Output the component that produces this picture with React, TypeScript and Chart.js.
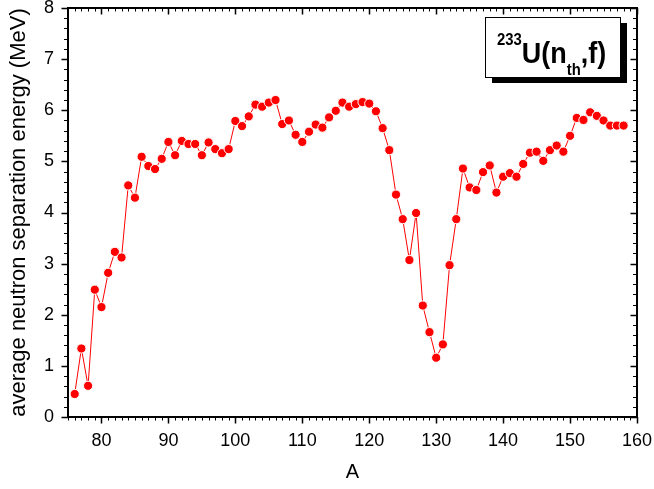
import React, { useEffect, useRef } from "react";
import { Chart, registerables } from "chart.js";

Chart.register(...registerables);

const massNumbers = [
  76, 77, 78, 79, 80, 81, 82, 83, 84, 85, 86, 87, 88, 89, 90, 91, 92, 93, 94, 95,
  96, 97, 98, 99, 100, 101, 102, 103, 104, 105, 106, 107, 108, 109, 110, 111, 112,
  113, 114, 115, 116, 117, 118, 119, 120, 121, 122, 123, 124, 125, 126, 127, 128,
  129, 130, 131, 132, 133, 134, 135, 136, 137, 138, 139, 140, 141, 142, 143, 144,
  145, 146, 147, 148, 149, 150, 151, 152, 153, 154, 155, 156, 157, 158,
];

const separationEnergy = [
  0.45, 1.34, 0.61, 2.49, 2.15, 2.82, 3.23, 3.12, 4.53, 4.29, 5.09, 4.91, 4.85, 5.05,
  5.38, 5.12, 5.4, 5.34, 5.34, 5.12, 5.37, 5.24, 5.16, 5.24, 5.79, 5.69, 5.88, 6.11,
  6.07, 6.15, 6.2, 5.73, 5.8, 5.52, 5.38, 5.58, 5.72, 5.66, 5.86, 5.99, 6.15, 6.07,
  6.12, 6.16, 6.13, 5.98, 5.65, 5.22, 4.35, 3.87, 3.07, 3.99, 2.18, 1.66, 1.16, 1.42,
  2.97, 3.87, 4.86, 4.49, 4.44, 4.79, 4.92, 4.39, 4.7, 4.77, 4.7, 4.95, 5.17, 5.19,
  5.01, 5.22, 5.31, 5.19, 5.5, 5.85, 5.81, 5.96, 5.89, 5.8, 5.7, 5.7, 5.7,
];

const xTickValues = [80, 90, 100, 110, 120, 130, 140, 150, 160];
const yTickValues = [0, 1, 2, 3, 4, 5, 6, 7, 8];
const xRange = [75, 160];
const yRange = [0, 8];
const xAxisTitle = "A";
const yAxisTitle = "average neutron separation energy (MeV)";
const labelSup = "233";
const labelMain = "U(n";
const labelSub = "th";
const labelTail = ",f)";

const FONT = "'Liberation Sans', Arial, Helvetica, sans-serif";

const framePlugin = {
  id: "originFrame",
  afterDraw(chart: any) {
    const { ctx, chartArea: ca, scales } = chart;
    const x = scales.x;
    const y = scales.y;
    ctx.save();
    ctx.strokeStyle = "#000";

    // x ticks (bottom outward, top inward)
    for (let v = Math.ceil(x.min); v <= x.max; v++) {
      const px = Math.round(x.getPixelForValue(v)) + 0.5;
      const major = v % 10 === 0;
      const len = major ? 6.5 : 3.5;
      ctx.lineWidth = major ? 1.5 : 1;
      ctx.beginPath();
      ctx.moveTo(px, ca.bottom);
      ctx.lineTo(px, ca.bottom + len);
      ctx.moveTo(px, ca.top);
      ctx.lineTo(px, ca.top + len);
      ctx.stroke();
    }
    // y ticks (left outward, right inward)
    for (let i = 0; i <= (y.max - y.min) * 5; i++) {
      const v = y.min + i * 0.2;
      const py = Math.round(y.getPixelForValue(v)) + 0.5;
      const major = i % 5 === 0;
      const len = major ? 6.5 : 4;
      ctx.lineWidth = major ? 1.5 : 1;
      ctx.beginPath();
      ctx.moveTo(ca.left, py);
      ctx.lineTo(ca.left - len, py);
      ctx.moveTo(ca.right, py);
      ctx.lineTo(ca.right - len, py);
      ctx.stroke();
    }
    // frame
    ctx.lineWidth = 2;
    ctx.strokeRect(ca.left, ca.top, ca.right - ca.left, ca.bottom - ca.top);

    // reaction label box with shadow
    const bx = 485, by = 17, bw = 135, bh = 60;
    ctx.fillStyle = "#000";
    ctx.fillRect(bx + 7, by + 6, bw, bh);
    ctx.fillStyle = "#fff";
    ctx.fillRect(bx, by, bw, bh);
    ctx.lineWidth = 1;
    ctx.strokeStyle = "#000";
    ctx.strokeRect(bx + 0.5, by + 0.5, bw, bh);

    ctx.fillStyle = "#000";
    ctx.textBaseline = "alphabetic";
    ctx.textAlign = "left";
    ctx.translate(497, 0);
    ctx.scale(0.93, 1);
    let cx = 0;
    ctx.font = `bold 16px ${FONT}`;
    ctx.fillText(labelSup, cx, 45);
    cx += ctx.measureText(labelSup).width;
    ctx.font = `bold 29px ${FONT}`;
    ctx.fillText(labelMain, cx, 63);
    cx += ctx.measureText(labelMain).width;
    ctx.font = `bold 16px ${FONT}`;
    ctx.fillText(labelSub, cx, 75);
    cx += ctx.measureText(labelSub).width;
    ctx.font = `bold 29px ${FONT}`;
    ctx.fillText(labelTail, cx, 63);
    ctx.restore();
  },
};

export default function App() {
  const ref = useRef<HTMLCanvasElement>(null);

  useEffect(() => {
    if (!ref.current) return;
    const points = massNumbers.map((a, i) => ({ x: a, y: separationEnergy[i] }));
    const chart = new Chart(ref.current, {
      type: "line",
      data: {
        datasets: [
          {
            data: points,
            borderColor: "#ff0000",
            borderWidth: 1,
            backgroundColor: "#ff0000",
            pointBackgroundColor: "#ff0000",
            pointBorderColor: "#ffffff",
            pointBorderWidth: 1,
            pointRadius: 4.6,
            tension: 0,
            fill: false,
            clip: false as any,
          },
        ],
      },
      options: {
        responsive: false,
        animation: false,
        devicePixelRatio: 1,
        layout: { padding: { top: 8, right: 17, left: 0, bottom: 0 } },
        plugins: {
          legend: { display: false },
          tooltip: { enabled: false },
        },
        scales: {
          x: {
            type: "linear",
            min: xRange[0],
            max: xRange[1],
            grid: { display: false, drawTicks: false },
            border: { display: false },
            afterBuildTicks: (s: any) => {
              s.ticks = xTickValues.map((v) => ({ value: v }));
            },
            afterFit: (s: any) => {
              s.height = 72;
              s.paddingLeft = 0;
              s.paddingRight = 0;
            },
            ticks: {
              color: "#000",
              padding: 13,
              maxRotation: 0,
              autoSkip: false,
              font: { family: FONT, size: 18 },
            },
            title: {
              display: true,
              text: xAxisTitle,
              color: "#000",
              font: { family: FONT, size: 20 },
              padding: { top: 0, bottom: 5 },
            },
          },
          y: {
            type: "linear",
            min: yRange[0],
            max: yRange[1],
            grid: { display: false, drawTicks: false },
            border: { display: false },
            afterBuildTicks: (s: any) => {
              s.ticks = yTickValues.map((v) => ({ value: v }));
            },
            afterFit: (s: any) => {
              s.width = 68;
              s.paddingTop = 0;
              s.paddingBottom = 0;
            },
            ticks: {
              color: "#000",
              padding: 14,
              autoSkip: false,
              font: { family: FONT, size: 18 },
            },
            title: {
              display: true,
              text: yAxisTitle,
              color: "#000",
              font: { family: FONT, size: 22 },
              padding: { top: 6, bottom: 0 },
            },
          },
        },
      },
      plugins: [framePlugin],
    });
    return () => chart.destroy();
  }, []);

  return (
    <div
      style={{
        position: "fixed",
        left: 0,
        top: 0,
        width: 654,
        height: 489,
        background: "#fff",
      }}
    >
      <canvas
        ref={ref}
        width={654}
        height={489}
        style={{ display: "block", width: 654, height: 489 }}
      />
    </div>
  );
}
